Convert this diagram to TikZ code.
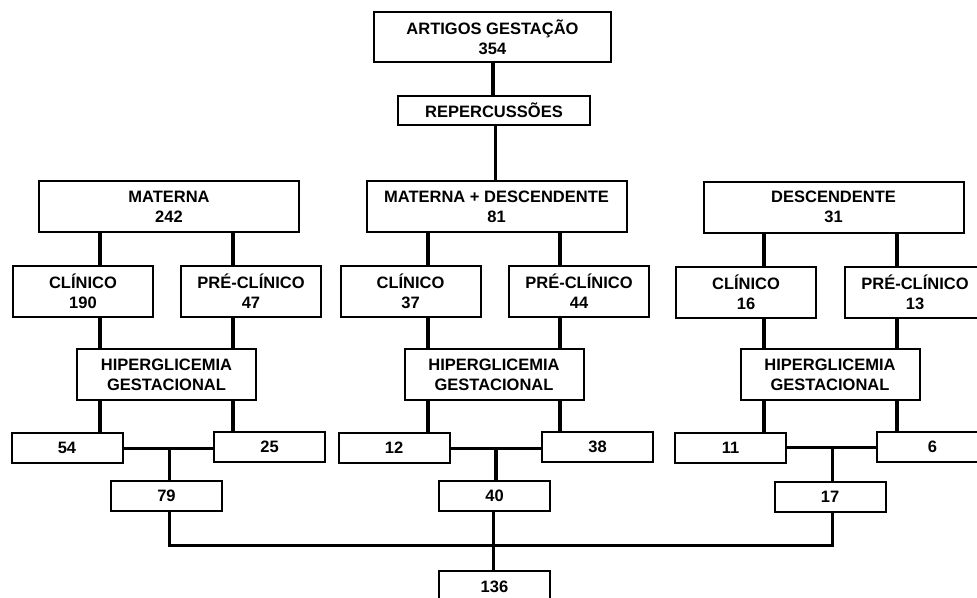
\documentclass[tikz,border=0pt]{standalone}
\usepackage{fontspec}
\setmainfont{Liberation Sans}
\usepackage{tikz}

\begin{document}
\begin{tikzpicture}[x=1pt,y=-1pt,
	  every node/.append style={font=\bfseries\fontsize{16.5}{20}\selectfont},
	  box/.style={draw,line width=2pt,inner sep=0pt,align=center},
	  head/.style={box,minimum width=260,minimum height=51},
	  sub/.style={box,minimum width=140,minimum height=51},
	  hip/.style={box,minimum width=179,minimum height=51},
	  num/.style={box,minimum width=111,minimum height=30}]
	  \tikzstyle{stem} = [line width=4pt]
	  \tikzstyle{link} = [line width=3pt]
	  \useasboundingbox (0,0) rectangle (977,597);
	  \node (art) [box,minimum width=237,minimum height=50] at (492.5,37) {ARTIGOS GESTAÇÃO\\354};
	  \node (rep) [box,minimum width=192,minimum height=29] at (494,110.5) {REPERCUSSÕES};
	  \node (1_top) [head] at (169,206.5) {MATERNA\\242};
	  \node (2_top) [head] at (496.5,206.5) {MATERNA + DESCENDENTE\\81};
	  \node (3_top) [head] at (833.5,207) {DESCENDENTE\\31};
	  \node (1_cli) [sub] at (83,291.5) {CLÍNICO\\190};
	  \node (1_pre) [sub] at (251,291.5) {PRÉ-CLÍNICO\\47};
	  \node (2_cli) [sub] at (410.5,291.5) {CLÍNICO\\37};
	  \node (2_pre) [sub] at (579,291.5) {PRÉ-CLÍNICO\\44};
	  \node (3_cli) [sub] at (746,292) {CLÍNICO\\16};
	  \node (3_pre) [sub] at (915,292) {PRÉ-CLÍNICO\\13};
	  \node (1_hip) [hip] at (166.5,374.5) {HIPERGLICEMIA\\GESTACIONAL};
	  \node (2_hip) [hip] at (494,374.5) {HIPERGLICEMIA\\GESTACIONAL};
	  \node (3_hip) [hip] at (830,374.5) {HIPERGLICEMIA\\GESTACIONAL};
	  \node (1_a) [num] at (67,448) {54};
	  \node (1_b) [num] at (269.5,447) {25};
	  \node (2_a) [num] at (394,448) {12};
	  \node (2_b) [num] at (597.5,447) {38};
	  \node (3_a) [num] at (730.5,447.5) {11};
	  \node (3_b) [num] at (932.5,447) {6};
	  \node (1_sum) [num] at (166.5,495.5) {79};
	  \node (2_sum) [num] at (494.5,495.5) {40};
	  \node (3_sum) [num] at (830,496.5) {17};
	  \node (tot) [num,minimum height=31] at (494.5,586.5) {136};
	  \coordinate (1_l) at (100,0);
	  \coordinate (1_r) at (233,0);
	  \coordinate (1_m) at (169,0);
	  \coordinate (2_l) at (428,0);
	  \coordinate (2_r) at (560,0);
	  \coordinate (2_m) at (496,0);
	  \coordinate (3_l) at (764,0);
	  \coordinate (3_r) at (897,0);
	  \coordinate (3_m) at (832,0);
	  \coordinate (bot) at (494,545);
	  \draw[stem] (art.south -| 493,0) -- (rep.north -| 493,0);
	  \draw[link] (rep.south -| 495,0) -- (2_top.north -| 495,0);
	  \foreach \g in {1,2,3} {
	    \draw[stem] (\g_top.south -| \g_l) -- (\g_cli.north -| \g_l);
	    \draw[stem] (\g_top.south -| \g_r) -- (\g_pre.north -| \g_r);
	    \draw[stem] (\g_cli.south -| \g_l) -- (\g_hip.north -| \g_l);
	    \draw[stem] (\g_pre.south -| \g_r) -- (\g_hip.north -| \g_r);
	    \draw[stem] (\g_hip.south -| \g_l) -- (\g_a.north -| \g_l);
	    \draw[stem] (\g_hip.south -| \g_r) -- (\g_b.north -| \g_r);
	    \draw[link] (\g_a.east) -- (\g_a.east -| \g_b.west);
	    \draw[link] (\g_m |- \g_a.east) -- (\g_sum.north -| \g_m);
	  }
	  \draw[stem] (2_m |- 2_a.east) -- (2_sum.north -| 2_m);
	  \draw[link] (1_sum.south -| 1_m) |- (bot) -| (3_sum.south -| 3_m);
	  \draw[link] (2_sum.south -| 493,0) -- (tot.north -| 493,0);
\end{tikzpicture}
\end{document}
